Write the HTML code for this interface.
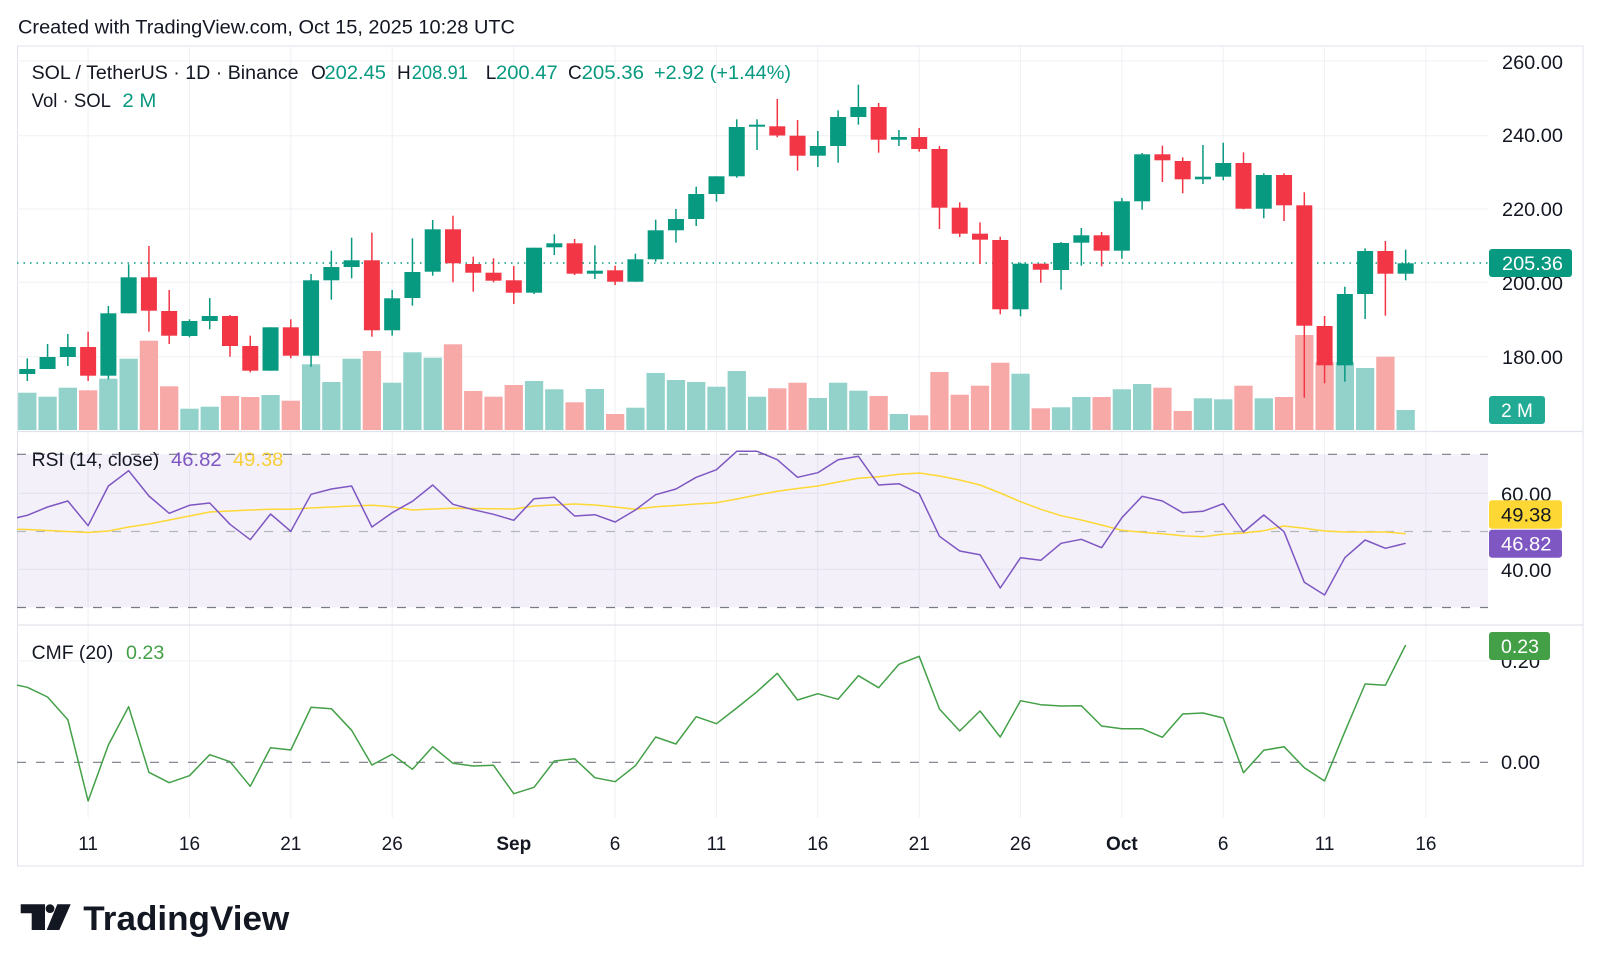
<!DOCTYPE html>
<html><head><meta charset="utf-8"><style>
html,body{margin:0;padding:0;background:#fff;width:1600px;height:969px;overflow:hidden}
svg{display:block}
text{font-family:"Liberation Sans",Arial,sans-serif;fill:#131722}
</style></head><body>
<svg width="1600" height="969" viewBox="0 0 1600 969" xmlns="http://www.w3.org/2000/svg">
<defs><clipPath id="c"><rect x="17" y="46" width="1471" height="772"/></clipPath></defs>
<rect width="1600" height="969" fill="#fff"/>
<text x="18" y="33.5" font-size="19" textLength="497" lengthAdjust="spacingAndGlyphs">Created with TradingView.com, Oct 15, 2025 10:28 UTC</text>
<rect x="17.5" y="46" width="1565.5" height="820" fill="none" stroke="#e0e3eb" stroke-width="1"/>
<g stroke="#eef0f4" stroke-width="1">
<line x1="17" x2="1488" y1="61" y2="61"/><line x1="17" x2="1488" y1="135.7" y2="135.7"/><line x1="17" x2="1488" y1="209" y2="209"/><line x1="17" x2="1488" y1="282.3" y2="282.3"/><line x1="17" x2="1488" y1="356.7" y2="356.7"/>
<line x1="17" x2="1488" y1="493.3" y2="493.3"/><line x1="17" x2="1488" y1="569.3" y2="569.3"/><line x1="17" x2="1488" y1="661" y2="661"/>
<line x1="88.1" x2="88.1" y1="46" y2="818"/><line x1="189.5" x2="189.5" y1="46" y2="818"/><line x1="290.8" x2="290.8" y1="46" y2="818"/><line x1="392.2" x2="392.2" y1="46" y2="818"/><line x1="513.8" x2="513.8" y1="46" y2="818"/><line x1="615.1" x2="615.1" y1="46" y2="818"/><line x1="716.5" x2="716.5" y1="46" y2="818"/><line x1="817.8" x2="817.8" y1="46" y2="818"/><line x1="919.2" x2="919.2" y1="46" y2="818"/><line x1="1020.5" x2="1020.5" y1="46" y2="818"/><line x1="1121.9" x2="1121.9" y1="46" y2="818"/><line x1="1223.2" x2="1223.2" y1="46" y2="818"/><line x1="1324.6" x2="1324.6" y1="46" y2="818"/><line x1="1425.9" x2="1425.9" y1="46" y2="818"/>
</g>
<g stroke="#e0e3eb" stroke-width="1.2"><line x1="17" x2="1583" y1="431.5" y2="431.5"/><line x1="17" x2="1583" y1="625" y2="625"/></g>
<g clip-path="url(#c)">
<g fill="#92d2cb">
<rect x="18.15" y="392.7" width="18.3" height="37.3"/><rect x="38.42" y="396.7" width="18.3" height="33.3"/><rect x="58.69" y="387.7" width="18.3" height="42.3"/><rect x="99.23" y="378.7" width="18.3" height="51.3"/><rect x="119.5" y="358.7" width="18.3" height="71.3"/><rect x="180.31" y="408.7" width="18.3" height="21.3"/><rect x="200.58" y="406.7" width="18.3" height="23.3"/><rect x="261.39" y="395" width="18.3" height="35"/><rect x="301.93" y="364.3" width="18.3" height="65.7"/><rect x="322.2" y="382" width="18.3" height="48"/><rect x="342.47" y="358.7" width="18.3" height="71.3"/><rect x="383.01" y="382.7" width="18.3" height="47.3"/><rect x="403.28" y="352.3" width="18.3" height="77.7"/><rect x="423.55" y="357.7" width="18.3" height="72.3"/><rect x="524.9" y="381" width="18.3" height="49"/><rect x="545.17" y="389.3" width="18.3" height="40.7"/><rect x="585.71" y="389" width="18.3" height="41"/><rect x="626.25" y="407.7" width="18.3" height="22.3"/><rect x="646.52" y="373" width="18.3" height="57"/><rect x="666.79" y="380" width="18.3" height="50"/><rect x="687.06" y="382" width="18.3" height="48"/><rect x="707.33" y="386.7" width="18.3" height="43.3"/><rect x="727.6" y="371" width="18.3" height="59"/><rect x="747.87" y="396.7" width="18.3" height="33.3"/><rect x="808.68" y="398" width="18.3" height="32"/><rect x="828.95" y="382.7" width="18.3" height="47.3"/><rect x="849.22" y="390.7" width="18.3" height="39.3"/><rect x="889.76" y="414" width="18.3" height="16"/><rect x="1011.38" y="373.7" width="18.3" height="56.3"/><rect x="1051.92" y="407.3" width="18.3" height="22.7"/><rect x="1072.19" y="397" width="18.3" height="33"/><rect x="1112.73" y="389.3" width="18.3" height="40.7"/><rect x="1133" y="384" width="18.3" height="46"/><rect x="1193.81" y="398.3" width="18.3" height="31.7"/><rect x="1214.08" y="399.3" width="18.3" height="30.7"/><rect x="1254.62" y="398.3" width="18.3" height="31.7"/><rect x="1335.7" y="362" width="18.3" height="68"/><rect x="1355.97" y="368" width="18.3" height="62"/><rect x="1396.51" y="410" width="18.3" height="20"/>
</g>
<g fill="#f7a9a7">
<rect x="78.96" y="390.3" width="18.3" height="39.7"/><rect x="139.77" y="340.7" width="18.3" height="89.3"/><rect x="160.04" y="386.3" width="18.3" height="43.7"/><rect x="220.85" y="396" width="18.3" height="34"/><rect x="241.12" y="397" width="18.3" height="33"/><rect x="281.66" y="400.7" width="18.3" height="29.3"/><rect x="362.74" y="351" width="18.3" height="79"/><rect x="443.82" y="344.3" width="18.3" height="85.7"/><rect x="464.09" y="391" width="18.3" height="39"/><rect x="484.36" y="396.7" width="18.3" height="33.3"/><rect x="504.63" y="385" width="18.3" height="45"/><rect x="565.44" y="402.3" width="18.3" height="27.7"/><rect x="605.98" y="414" width="18.3" height="16"/><rect x="768.14" y="388.3" width="18.3" height="41.7"/><rect x="788.41" y="382.7" width="18.3" height="47.3"/><rect x="869.49" y="396" width="18.3" height="34"/><rect x="910.03" y="415.3" width="18.3" height="14.7"/><rect x="930.3" y="372" width="18.3" height="58"/><rect x="950.57" y="394.7" width="18.3" height="35.3"/><rect x="970.84" y="385.7" width="18.3" height="44.3"/><rect x="991.11" y="362.7" width="18.3" height="67.3"/><rect x="1031.65" y="408.3" width="18.3" height="21.7"/><rect x="1092.46" y="397" width="18.3" height="33"/><rect x="1153.27" y="387.7" width="18.3" height="42.3"/><rect x="1173.54" y="411" width="18.3" height="19"/><rect x="1234.35" y="385.7" width="18.3" height="44.3"/><rect x="1274.89" y="397" width="18.3" height="33"/><rect x="1295.16" y="335" width="18.3" height="95"/><rect x="1315.43" y="362" width="18.3" height="68"/><rect x="1376.24" y="356.7" width="18.3" height="73.3"/>
</g>
<line x1="17" x2="1488" y1="263" y2="263" stroke="#089981" stroke-width="1.5" stroke-dasharray="1.5 5"/>
<g stroke="#089981" stroke-width="1.5">
<line x1="27.3" x2="27.3" y1="358.3" y2="381"/><line x1="47.57" x2="47.57" y1="344" y2="369"/><line x1="67.84" x2="67.84" y1="334" y2="366"/><line x1="108.38" x2="108.38" y1="306" y2="379.3"/><line x1="128.65" x2="128.65" y1="264.3" y2="313.3"/><line x1="189.46" x2="189.46" y1="319.3" y2="337.3"/><line x1="209.73" x2="209.73" y1="298" y2="329.3"/><line x1="270.54" x2="270.54" y1="327.3" y2="370.7"/><line x1="311.08" x2="311.08" y1="274" y2="366.7"/><line x1="331.35" x2="331.35" y1="250.7" y2="299.7"/><line x1="351.62" x2="351.62" y1="237.7" y2="278.3"/><line x1="392.16" x2="392.16" y1="290" y2="335.7"/><line x1="412.43" x2="412.43" y1="238.3" y2="305.7"/><line x1="432.7" x2="432.7" y1="220" y2="275.7"/><line x1="534.05" x2="534.05" y1="247.7" y2="294"/><line x1="554.32" x2="554.32" y1="234.3" y2="255"/><line x1="594.86" x2="594.86" y1="245.3" y2="279"/><line x1="635.4" x2="635.4" y1="253.7" y2="281.7"/><line x1="655.67" x2="655.67" y1="219.7" y2="261.7"/><line x1="675.94" x2="675.94" y1="209" y2="242.7"/><line x1="696.21" x2="696.21" y1="186.7" y2="226"/><line x1="716.48" x2="716.48" y1="176.3" y2="201.7"/><line x1="736.75" x2="736.75" y1="119.3" y2="177.7"/><line x1="757.02" x2="757.02" y1="119.3" y2="150"/><line x1="817.83" x2="817.83" y1="131" y2="167"/><line x1="838.1" x2="838.1" y1="110.3" y2="162.7"/><line x1="858.37" x2="858.37" y1="84.7" y2="124.7"/><line x1="898.91" x2="898.91" y1="130" y2="146"/><line x1="1020.53" x2="1020.53" y1="262.7" y2="316.3"/><line x1="1061.07" x2="1061.07" y1="242" y2="289.7"/><line x1="1081.34" x2="1081.34" y1="228" y2="265.7"/><line x1="1121.88" x2="1121.88" y1="198" y2="258.7"/><line x1="1142.15" x2="1142.15" y1="153" y2="209.7"/><line x1="1202.96" x2="1202.96" y1="145" y2="184"/><line x1="1223.23" x2="1223.23" y1="142.7" y2="180.3"/><line x1="1263.77" x2="1263.77" y1="173.3" y2="218.3"/><line x1="1344.85" x2="1344.85" y1="286.7" y2="381.7"/><line x1="1365.12" x2="1365.12" y1="248.3" y2="319"/><line x1="1405.66" x2="1405.66" y1="249.7" y2="280.3"/>
</g>
<g fill="#089981">
<rect x="19.3" y="369" width="16" height="5"/><rect x="39.57" y="357" width="16" height="12"/><rect x="59.84" y="347" width="16" height="10"/><rect x="100.38" y="313.3" width="16" height="62.4"/><rect x="120.65" y="277.3" width="16" height="36"/><rect x="181.46" y="321" width="16" height="15"/><rect x="201.73" y="316" width="16" height="5"/><rect x="262.54" y="327.3" width="16" height="43.4"/><rect x="303.08" y="280.3" width="16" height="75.4"/><rect x="323.35" y="267" width="16" height="13.3"/><rect x="343.62" y="260.3" width="16" height="6.7"/><rect x="384.16" y="298.3" width="16" height="32"/><rect x="404.43" y="272" width="16" height="26"/><rect x="424.7" y="229.3" width="16" height="42.4"/><rect x="526.05" y="247.7" width="16" height="45"/><rect x="546.32" y="243.3" width="16" height="4"/><rect x="586.86" y="270.7" width="16" height="3"/><rect x="627.4" y="259.3" width="16" height="22.4"/><rect x="647.67" y="230.3" width="16" height="29"/><rect x="667.94" y="219" width="16" height="11.3"/><rect x="688.21" y="194" width="16" height="25"/><rect x="708.48" y="176.3" width="16" height="17.7"/><rect x="728.75" y="127" width="16" height="49.3"/><rect x="749.02" y="124.7" width="16" height="2"/><rect x="809.83" y="146" width="16" height="9.7"/><rect x="830.1" y="117" width="16" height="29"/><rect x="850.37" y="107" width="16" height="10"/><rect x="890.91" y="137" width="16" height="2.7"/><rect x="1012.53" y="263.7" width="16" height="45.6"/><rect x="1053.07" y="243" width="16" height="27"/><rect x="1073.34" y="235.3" width="16" height="7.4"/><rect x="1113.88" y="201.3" width="16" height="49.4"/><rect x="1134.15" y="154.3" width="16" height="47"/><rect x="1194.96" y="176.7" width="16" height="2.6"/><rect x="1215.23" y="163" width="16" height="13.7"/><rect x="1255.77" y="175" width="16" height="33.7"/><rect x="1336.85" y="294" width="16" height="71.3"/><rect x="1357.12" y="251" width="16" height="43"/><rect x="1397.66" y="263.3" width="16" height="10.4"/>
</g>
<g stroke="#f23645" stroke-width="1.5">
<line x1="88.11" x2="88.11" y1="331.7" y2="381"/><line x1="148.92" x2="148.92" y1="246" y2="331.7"/><line x1="169.19" x2="169.19" y1="290" y2="344"/><line x1="230" x2="230" y1="315" y2="356.7"/><line x1="250.27" x2="250.27" y1="335.7" y2="372.3"/><line x1="290.81" x2="290.81" y1="319.3" y2="358.3"/><line x1="371.89" x2="371.89" y1="232.7" y2="336.7"/><line x1="452.97" x2="452.97" y1="215.7" y2="282.3"/><line x1="473.24" x2="473.24" y1="256.7" y2="291.7"/><line x1="493.51" x2="493.51" y1="258.3" y2="282.3"/><line x1="513.78" x2="513.78" y1="266" y2="304"/><line x1="574.59" x2="574.59" y1="239" y2="275"/><line x1="615.13" x2="615.13" y1="265.7" y2="285"/><line x1="777.29" x2="777.29" y1="99" y2="137.3"/><line x1="797.56" x2="797.56" y1="120" y2="170.7"/><line x1="878.64" x2="878.64" y1="103" y2="152.7"/><line x1="919.18" x2="919.18" y1="128" y2="151.7"/><line x1="939.45" x2="939.45" y1="146" y2="229"/><line x1="959.72" x2="959.72" y1="202.3" y2="237"/><line x1="979.99" x2="979.99" y1="222.3" y2="264"/><line x1="1000.26" x2="1000.26" y1="236.7" y2="314.3"/><line x1="1040.8" x2="1040.8" y1="263.7" y2="282.7"/><line x1="1101.61" x2="1101.61" y1="232" y2="266.3"/><line x1="1162.42" x2="1162.42" y1="145.7" y2="182"/><line x1="1182.69" x2="1182.69" y1="157.3" y2="193.3"/><line x1="1243.5" x2="1243.5" y1="152.3" y2="209.3"/><line x1="1284.04" x2="1284.04" y1="173.3" y2="221"/><line x1="1304.31" x2="1304.31" y1="192.3" y2="397.7"/><line x1="1324.58" x2="1324.58" y1="316" y2="383.3"/><line x1="1385.39" x2="1385.39" y1="241" y2="315.7"/>
</g>
<g fill="#f23645">
<rect x="80.11" y="347" width="16" height="28.7"/><rect x="140.92" y="277.3" width="16" height="33.4"/><rect x="161.19" y="311" width="16" height="24.7"/><rect x="222" y="316" width="16" height="30"/><rect x="242.27" y="346" width="16" height="24.7"/><rect x="282.81" y="327.3" width="16" height="28.4"/><rect x="363.89" y="260.3" width="16" height="70"/><rect x="444.97" y="229.3" width="16" height="34"/><rect x="465.24" y="264" width="16" height="8.7"/><rect x="485.51" y="272.7" width="16" height="8"/><rect x="505.78" y="280.3" width="16" height="12.4"/><rect x="566.59" y="243.3" width="16" height="30.4"/><rect x="607.13" y="270.3" width="16" height="11.4"/><rect x="769.29" y="126.3" width="16" height="9.2"/><rect x="789.56" y="135.7" width="16" height="20"/><rect x="870.64" y="107" width="16" height="32.7"/><rect x="911.18" y="137" width="16" height="12"/><rect x="931.45" y="149" width="16" height="58.7"/><rect x="951.72" y="207.7" width="16" height="26"/><rect x="971.99" y="233.7" width="16" height="6"/><rect x="992.26" y="240" width="16" height="69.3"/><rect x="1032.8" y="263.7" width="16" height="6"/><rect x="1093.61" y="235.3" width="16" height="15.4"/><rect x="1154.42" y="154.3" width="16" height="6"/><rect x="1174.69" y="161" width="16" height="18.3"/><rect x="1235.5" y="163" width="16" height="45.7"/><rect x="1276.04" y="175" width="16" height="30.3"/><rect x="1296.31" y="205.3" width="16" height="120.4"/><rect x="1316.58" y="326" width="16" height="39.3"/><rect x="1377.39" y="251" width="16" height="22.7"/>
</g>
<rect x="17" y="454.3" width="1471" height="153" fill="#7e57c2" fill-opacity="0.09"/>
<g fill="none" stroke-width="1.2" stroke-dasharray="9 10">
<line x1="17" x2="1488" y1="454.3" y2="454.3" stroke="#787b86"/>
<line x1="17" x2="1488" y1="531.5" y2="531.5" stroke="#b4b6bd"/>
<line x1="17" x2="1488" y1="607.5" y2="607.5" stroke="#787b86"/>
<line x1="17" x2="1488" y1="762.3" y2="762.3" stroke="#787b86"/>
</g>
<polyline fill="none" stroke="#fdd835" stroke-width="1.5" stroke-linejoin="round" points="7.03,529 27.3,529.5 47.57,530.5 67.84,531.5 88.11,532.5 108.38,531 128.65,527 148.92,524 169.19,520 189.46,516 209.73,512 230,511 250.27,510 270.54,509.3 290.81,509.3 311.08,508 331.35,507 351.62,506 371.89,505.3 392.16,506.7 412.43,510 432.7,509 452.97,508.3 473.24,508.5 493.51,508.7 513.78,509 534.05,506 554.32,505 574.59,504 594.86,505 615.13,507 635.4,509.3 655.67,506.7 675.94,505.5 696.21,504 716.48,502.7 736.75,499 757.02,495 777.29,491.3 797.56,488.5 817.83,486 838.1,482 858.37,478.3 878.64,476.7 898.91,474.3 919.18,473 939.45,476 959.72,480 979.99,485 1000.26,493 1020.53,501.7 1040.8,509.3 1061.07,515.7 1081.34,520 1101.61,525 1121.88,530.3 1142.15,532.3 1162.42,533.7 1182.69,535.7 1202.96,536.7 1223.23,534.3 1243.5,533 1263.77,530.7 1284.04,526 1304.31,528.3 1324.58,531 1344.85,532 1365.12,532 1385.39,532 1405.66,533.7"/>
<polyline fill="none" stroke="#7e57c2" stroke-width="1.5" stroke-linejoin="round" points="7.03,520 27.3,515.3 47.57,507 67.84,501 88.11,525.7 108.38,486 128.65,470.7 148.92,496 169.19,513.3 189.46,505.3 209.73,503 230,524.3 250.27,539.7 270.54,514 290.81,531.3 311.08,494.3 331.35,489 351.62,486 371.89,527 392.16,512.7 412.43,501.3 432.7,485 452.97,504.3 473.24,509.7 493.51,514.3 513.78,520.3 534.05,498.7 554.32,497.3 574.59,516 594.86,514.7 615.13,522 635.4,510 655.67,494.7 675.94,489 696.21,477.3 716.48,469.7 736.75,451.3 757.02,451.3 777.29,459.7 797.56,477.3 817.83,472.7 838.1,459.7 858.37,456.3 878.64,485 898.91,483.7 919.18,493.7 939.45,536.3 959.72,551 979.99,554.7 1000.26,588 1020.53,557.7 1040.8,560.3 1061.07,543.3 1081.34,539.3 1101.61,547.7 1121.88,517.7 1142.15,496.3 1162.42,501 1182.69,512.7 1202.96,511.3 1223.23,503.7 1243.5,532 1263.77,515 1284.04,531.7 1304.31,582.3 1324.58,595 1344.85,557.7 1365.12,540 1385.39,548.3 1405.66,543.3"/>
<polyline fill="none" stroke="#43a047" stroke-width="1.5" stroke-linejoin="round" points="7.03,683 27.3,687.3 47.57,697 67.84,719.7 88.11,801 108.38,745 128.65,706.7 148.92,772.3 169.19,782.7 189.46,775.7 209.73,754.7 230,761.7 250.27,786.3 270.54,747.7 290.81,750 311.08,707.3 331.35,708.7 351.62,730.3 371.89,765 392.16,754.3 412.43,769.3 432.7,746.7 452.97,763.3 473.24,766 493.51,765.3 513.78,793.7 534.05,787.3 554.32,761 574.59,758.7 594.86,777.7 615.13,781.7 635.4,765.7 655.67,737 675.94,744 696.21,716.7 716.48,723.7 736.75,708 757.02,691.7 777.29,673.3 797.56,700 817.83,693.7 838.1,699.3 858.37,675.7 878.64,687.7 898.91,664.3 919.18,656.3 939.45,709 959.72,731 979.99,711 1000.26,737 1020.53,700.7 1040.8,704.7 1061.07,706 1081.34,705.7 1101.61,726 1121.88,728.7 1142.15,728.7 1162.42,737.3 1182.69,714 1202.96,713 1223.23,718 1243.5,772.7 1263.77,750.3 1284.04,746.7 1304.31,767.7 1324.58,781 1344.85,731.7 1365.12,684 1385.39,685.3 1405.66,645"/>
</g>
<!-- legends -->
<g font-size="19">
<text x="31.6" y="79" textLength="267" lengthAdjust="spacingAndGlyphs">SOL / TetherUS · 1D · Binance</text>
<text x="311" y="79">O</text><text x="324.5" y="79" fill="#089981" style="fill:#089981" textLength="61.5" lengthAdjust="spacingAndGlyphs">202.45</text>
<text x="397" y="79">H</text><text x="411.7" y="79" style="fill:#089981" textLength="56.3" lengthAdjust="spacingAndGlyphs">208.91</text>
<text x="485.7" y="79">L</text><text x="496" y="79" style="fill:#089981" textLength="61.7" lengthAdjust="spacingAndGlyphs">200.47</text>
<text x="568" y="79">C</text><text x="581.6" y="79" style="fill:#089981" textLength="62.4" lengthAdjust="spacingAndGlyphs">205.36</text>
<text x="654" y="79" style="fill:#089981" textLength="137" lengthAdjust="spacingAndGlyphs">+2.92 (+1.44%)</text>
<text x="31.6" y="106.8" textLength="79.4" lengthAdjust="spacingAndGlyphs">Vol · SOL</text>
<text x="122.4" y="106.8" style="fill:#089981" textLength="34" lengthAdjust="spacingAndGlyphs">2 M</text>
<text x="31.7" y="466" textLength="127.6" lengthAdjust="spacingAndGlyphs">RSI (14, close)</text>
<text x="171" y="466" style="fill:#7e57c2" textLength="50.7" lengthAdjust="spacingAndGlyphs">46.82</text>
<text x="233" y="466" style="fill:#f7cf3a" textLength="50.3" lengthAdjust="spacingAndGlyphs">49.38</text>
<text x="31.7" y="659" textLength="81.6" lengthAdjust="spacingAndGlyphs">CMF (20)</text>
<text x="126" y="659" style="fill:#43a047" textLength="38.3" lengthAdjust="spacingAndGlyphs">0.23</text>
<!-- price axis -->
<text x="1502" y="68.8" textLength="61" lengthAdjust="spacingAndGlyphs">260.00</text>
<text x="1502" y="141.8" textLength="61" lengthAdjust="spacingAndGlyphs">240.00</text>
<text x="1502" y="215.8" textLength="61" lengthAdjust="spacingAndGlyphs">220.00</text>
<text x="1502" y="289.8" textLength="61" lengthAdjust="spacingAndGlyphs">200.00</text>
<text x="1502" y="363.8" textLength="61" lengthAdjust="spacingAndGlyphs">180.00</text>
<text x="1501" y="500.8" textLength="50.5" lengthAdjust="spacingAndGlyphs">60.00</text>
<text x="1501" y="576.8" textLength="50.5" lengthAdjust="spacingAndGlyphs">40.00</text>
<text x="1501" y="667.8" textLength="39" lengthAdjust="spacingAndGlyphs">0.20</text>
<text x="1501" y="769" textLength="39" lengthAdjust="spacingAndGlyphs">0.00</text>
</g>
<rect x="1489" y="249" width="83" height="28" rx="3" fill="#089981"/>
<text x="1502" y="270" font-size="19" style="fill:#fff" textLength="61" lengthAdjust="spacingAndGlyphs">205.36</text>
<rect x="1489" y="396" width="56" height="28" rx="3" fill="#22ab94"/>
<text x="1517" y="417" font-size="19" text-anchor="middle" style="fill:#fff">2 M</text>
<rect x="1489" y="500.3" width="73" height="28.5" rx="3" fill="#fdd835"/>
<text x="1501" y="521.5" font-size="19" textLength="50.5" lengthAdjust="spacingAndGlyphs">49.38</text>
<rect x="1489" y="529.7" width="73" height="28" rx="3" fill="#7e57c2"/>
<text x="1501" y="550.5" font-size="19" style="fill:#fff" textLength="50.5" lengthAdjust="spacingAndGlyphs">46.82</text>
<rect x="1489" y="632" width="61" height="28" rx="3" fill="#43a047"/>
<text x="1501" y="652.8" font-size="19" style="fill:#fff" textLength="38" lengthAdjust="spacingAndGlyphs">0.23</text>
<!-- time axis -->
<g font-size="19" text-anchor="middle">
<text x="88.1" y="850">11</text><text x="189.5" y="850">16</text><text x="290.8" y="850">21</text><text x="392.2" y="850">26</text>
<text x="513.8" y="850" font-weight="bold">Sep</text>
<text x="615.1" y="850">6</text><text x="716.5" y="850">11</text><text x="817.8" y="850">16</text><text x="919.2" y="850">21</text><text x="1020.5" y="850">26</text>
<text x="1121.9" y="850" font-weight="bold">Oct</text>
<text x="1223.2" y="850">6</text><text x="1324.6" y="850">11</text><text x="1425.9" y="850">16</text>
</g>
<!-- logo -->
<g fill="#131722">
<polygon points="20.7,904.3 45,904.3 45,930 31.7,930 31.7,913.3 20.7,913.3"/>
<circle cx="50" cy="908.6" r="4.4"/>
<polygon points="57.3,904.3 70.7,904.3 59.3,930 46.7,930"/>
</g>
<text x="83.3" y="930" font-size="34" font-weight="bold" textLength="206" lengthAdjust="spacingAndGlyphs">TradingView</text>
</svg>
</body></html>
